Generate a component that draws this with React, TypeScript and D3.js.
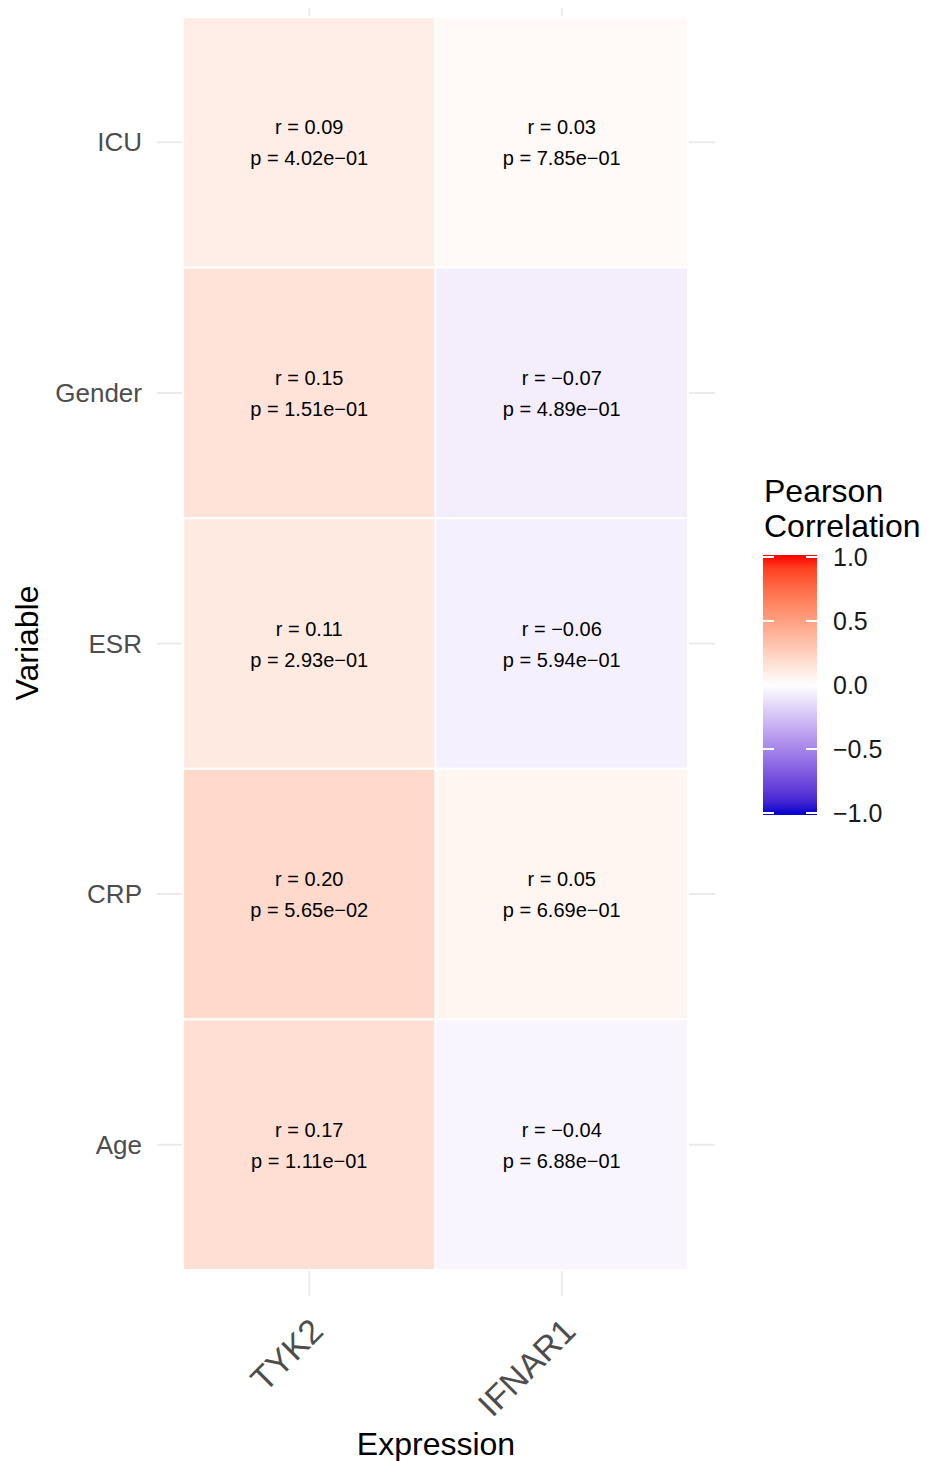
import * as d3 from "d3";

const variables = ["ICU", "Gender", "ESR", "CRP", "Age"];
const genes = ["TYK2", "IFNAR1"];

const rTYK2 = [0.09, 0.15, 0.11, 0.2, 0.17];
const pTYK2 = ["4.02e-01", "1.51e-01", "2.93e-01", "5.65e-02", "1.11e-01"];
const rIFNAR1 = [0.03, -0.07, -0.06, 0.05, -0.04];
const pIFNAR1 = ["7.85e-01", "4.89e-01", "5.94e-01", "6.69e-01", "6.88e-01"];

const legendBreaks = [1, 0.5, 0, -0.5, -1];

const W = 927;
const H = 1461;
const FONT = "'Liberation Sans', Arial, Helvetica, sans-serif";
const GRID = "#ebebeb";

// r values printed the way R does it (unicode minus)
const fmtR = (v: number) => (v < 0 ? "\u2212" : "") + Math.abs(v).toFixed(2);
const fmtP = (s: string) => s.replace("-", "\u2212");

const cells = genes.flatMap((g, gi) =>
  variables.map((v, vi) => ({
    gene: g,
    variable: v,
    r: gi === 0 ? rTYK2[vi] : rIFNAR1[vi],
    p: gi === 0 ? pTYK2[vi] : pIFNAR1[vi],
  }))
);

export default function App() {
  const x = d3.scaleBand<string>().domain(genes).range([183, 688]).padding(0);
  const y = d3.scaleBand<string>().domain(variables).range([17, 1270]).padding(0);

  const posColor = d3.interpolateLab("#ffffff", "#ff0000");
  const negColor = d3.interpolateLab("#ffffff", "#0000cd");
  const fill = (v: number) => (v >= 0 ? posColor(v) : negColor(-v));

  const panelLeft = x(genes[0])! - 26;
  const panelRight = x(genes[genes.length - 1])! + x.bandwidth() + 27;
  const panelTop = 8;
  const panelBottom = y(variables[variables.length - 1])! + y.bandwidth() + 26;

  const legY = d3.scaleLinear().domain([-1, 1]).range([813, 557]);
  const stops = d3.range(0, 1.0001, 0.05);

  return (
    <svg
      width={W}
      height={H}
      style={{ position: "absolute", left: 0, top: 0, background: "#fff" }}
      fontFamily={FONT}
    >
      <defs>
        <linearGradient id="legGrad" x1="0" y1="0" x2="0" y2="1">
          {stops.map((t) => (
            <stop key={t} offset={t} stopColor={fill(1 - 2 * t)} />
          ))}
        </linearGradient>
      </defs>

      {/* grid lines */}
      <g stroke={GRID} strokeWidth={2}>
        {variables.map((v) => (
          <line
            key={v}
            x1={panelLeft}
            x2={panelRight}
            y1={y(v)! + y.bandwidth() / 2}
            y2={y(v)! + y.bandwidth() / 2}
          />
        ))}
        {genes.map((g) => (
          <line
            key={g}
            x1={x(g)! + x.bandwidth() / 2}
            x2={x(g)! + x.bandwidth() / 2}
            y1={panelTop}
            y2={panelBottom}
          />
        ))}
      </g>

      {/* tiles */}
      {cells.map((c) => (
        <rect
          key={c.gene + c.variable}
          x={x(c.gene)}
          y={y(c.variable)}
          width={x.bandwidth()}
          height={y.bandwidth()}
          fill={fill(c.r)}
          stroke="#fff"
          strokeWidth={2}
        />
      ))}

      {/* cell labels */}
      {cells.map((c) => {
        const cx = x(c.gene)! + x.bandwidth() / 2;
        const cy = y(c.variable)! + y.bandwidth() / 2;
        return (
          <g key={"t" + c.gene + c.variable} fontSize={20} fill="#000" textAnchor="middle">
            <text x={cx} y={cy - 8}>{`r = ${fmtR(c.r)}`}</text>
            <text x={cx} y={cy + 23}>{`p = ${fmtP(c.p)}`}</text>
          </g>
        );
      })}

      {/* y axis labels */}
      {variables.map((v) => (
        <text
          key={v}
          x={142}
          y={y(v)! + y.bandwidth() / 2 + 9}
          fontSize={26}
          fill="#4d4d4d"
          textAnchor="end"
        >
          {v}
        </text>
      ))}

      {/* x axis labels */}
      {genes.map((g) => {
        const ex = x(g)! + x.bandwidth() / 2 + 16;
        const ey = 1333;
        return (
          <text
            key={g}
            transform={`translate(${ex},${ey}) rotate(-45)`}
            fontSize={34}
            fill="#4d4d4d"
            textAnchor="end"
          >
            {g}
          </text>
        );
      })}

      {/* axis titles */}
      <text x={436} y={1455} fontSize={32} textAnchor="middle" fill="#000">
        Expression
      </text>
      <text
        transform="translate(38,643) rotate(-90)"
        fontSize={32}
        textAnchor="middle"
        fill="#000"
      >
        Variable
      </text>

      {/* legend */}
      <text x={764} y={502} fontSize={32} fill="#000">
        Pearson
      </text>
      <text x={764} y={537} fontSize={32} fill="#000">
        Correlation
      </text>
      <rect x={763} y={legY(1) - 2} width={54} height={legY(-1) - legY(1) + 4} fill="url(#legGrad)" />
      {legendBreaks.map((b) => (
        <g key={b} stroke="#fff" strokeWidth={2}>
          <line x1={763} x2={774} y1={legY(b)} y2={legY(b)} />
          <line x1={806} x2={817} y1={legY(b)} y2={legY(b)} />
        </g>
      ))}
      {legendBreaks.map((b) => (
        <text key={"l" + b} x={833} y={legY(b) + 9} fontSize={25} fill="#1a1a1a">
          {(b < 0 ? "\u2212" : "") + Math.abs(b).toFixed(1)}
        </text>
      ))}
    </svg>
  );
}
